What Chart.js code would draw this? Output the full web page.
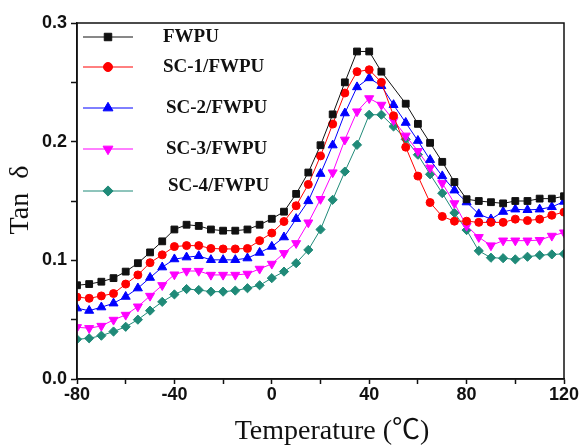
<!DOCTYPE html>
<html>
<head>
<meta charset="utf-8">
<script src="https://cdn.jsdelivr.net/npm/chart.js@4.4.1/dist/chart.umd.min.js"></script>
<style>
  html, body { margin: 0; padding: 0; background: #fff; }
  canvas { display: block; }
</style>
</head>
<body>
<canvas id="tanChart" width="587" height="445"></canvas>
<script>
// Temperatura (°C) de cada medida
const temperaturas = [-80, -75, -70, -65, -60, -55, -50, -45, -40, -35, -30, -25, -20, -15, -10, -5,
    0, 5, 10, 15, 20, 25, 30, 35, 40, 45, 50, 55, 60, 65, 70, 75, 80, 85, 90, 95, 100, 105, 110, 115, 120];

// tan δ de cada muestra (null = sin punto medido)
const fwpu = [0.079, 0.080, 0.082, 0.085, 0.0905, 0.0976, 0.1067, 0.116, 0.126, 0.130, 0.129, 0.126, 0.125, 0.125, 0.126, 0.130,
    0.135, 0.141, 0.156, 0.174, 0.197, 0.223, 0.250, 0.276, 0.276, 0.259, null, 0.232, 0.215, 0.199, 0.183, 0.166,
    0.1515, 0.150, 0.149, 0.148, 0.150, 0.150, 0.152, 0.152, 0.154];
const sc1 = [0.069, 0.068, 0.070, 0.072, 0.080, 0.0877, 0.098, 0.1046, 0.1116, 0.1124, 0.1124, 0.110, 0.1096, 0.1096, 0.110, 0.1166,
    0.123, 0.1327, 0.146, 0.164, 0.188, 0.2148, 0.241, 0.259, 0.2606, 0.250, 0.2218, 0.1954, 0.171, 0.1487, 0.137, 0.133,
    0.133, 0.132, 0.132, 0.132, 0.1347, 0.1335, 0.1347, 0.138, 0.1406];
const sc2 = [0.0596, 0.0576, 0.0605, 0.0638, 0.0694, 0.0765, 0.0854, 0.0942, 0.101, 0.1026, 0.1037, 0.1004, 0.1004, 0.1004, 0.1018, 0.1065,
    0.1116, 0.1195, 0.135, 0.150, 0.173, 0.197, 0.224, 0.246, 0.2536, 0.247, 0.231, 0.216, 0.2008, 0.1847, 0.171, 0.159,
    0.149, 0.139, 0.1347, 0.141, 0.143, 0.1425, 0.143, 0.145, 0.1495];
const sc3 = [0.0436, 0.0428, 0.0447, 0.0498, 0.054, 0.061, 0.070, 0.079, 0.088, 0.091, 0.091, 0.0877, 0.0877, 0.0877, 0.0886, 0.0928,
    0.097, 0.106, 0.1144, 0.1318, 0.1516, 0.174, 0.2016, 0.2254, 0.2365, 0.231, 0.218, 0.205, 0.192, 0.178, 0.165, 0.148,
    0.129, 0.1195, 0.1125, 0.1166, 0.1166, 0.1166, 0.117, 0.1206, 0.1234];
const sc4 = [0.0335, 0.0343, 0.0365, 0.040, 0.044, 0.050, 0.0576, 0.065, 0.0713, 0.0758, 0.075, 0.0736, 0.0736, 0.0745, 0.0765, 0.079,
    0.085, 0.0905, 0.0976, 0.1088, 0.126, 0.151, 0.1748, 0.1973, 0.2227, 0.2227, 0.2128, 0.202, 0.189, 0.1725, 0.1566, 0.140,
    0.1255, 0.108, 0.1022, 0.1018, 0.1008, 0.103, 0.1043, 0.105, 0.1054];

const etiquetas = ['FWPU', 'SC-1/FWPU', 'SC-2/FWPU', 'SC-3/FWPU', 'SC-4/FWPU'];

// Posiciones de la leyenda dentro del área de la gráfica
const leyendaMarcaY = [37, 67, 108, 149, 191];
const leyendaTextoY = [37, 67, 108, 149, 186];
const leyendaTextoX = [163, 163, 166, 166, 168];

const serie = (label, valores, color, estilo, radio, rotacion) => ({
    label: label,
    data: temperaturas.map((t, i) => ({ x: t, y: valores[i] })),
    borderColor: color,
    backgroundColor: color,
    pointBackgroundColor: color,
    pointBorderColor: color,
    pointStyle: estilo,
    pointRadius: radio,
    pointRotation: rotacion,
    pointBorderWidth: 1,
    borderWidth: 1,
    tension: 0,
    spanGaps: true
});

// Leyenda, títulos de ejes y marco
const extras = {
    id: 'extras',
    afterDraw(chart) {
        const ctx = chart.ctx;
        const a = chart.chartArea;
        ctx.save();

        chart.data.datasets.forEach((ds, i) => {
            const y = leyendaMarcaY[i];
            ctx.strokeStyle = ds.borderColor;
            ctx.fillStyle = ds.borderColor;
            ctx.lineWidth = 1;
            ctx.beginPath();
            ctx.moveTo(83, y);
            ctx.lineTo(133, y);
            ctx.stroke();
            Chart.helpers.drawPoint(ctx, {
                pointStyle: ds.pointStyle,
                rotation: ds.pointRotation,
                radius: ds.pointRadius + 0.5,
                borderWidth: 1
            }, 108, y);

            ctx.fillStyle = '#111';
            ctx.font = 'bold 19px "Liberation Serif", serif';
            ctx.textAlign = 'left';
            ctx.textBaseline = 'middle';
            ctx.fillText(ds.label, leyendaTextoX[i], leyendaTextoY[i]);
        });

        // títulos
        ctx.fillStyle = '#111';
        ctx.font = '28px "Liberation Serif", "Noto Sans CJK SC", serif';
        ctx.textAlign = 'center';
        ctx.textBaseline = 'middle';
        ctx.fillText('Temperature (℃)', 332, 432);

        ctx.save();
        ctx.translate(21, 200);
        ctx.rotate(-Math.PI / 2);
        ctx.fillText('Tan  δ', 0, 0);
        ctx.restore();

        // marco completo
        ctx.strokeStyle = '#111';
        ctx.lineWidth = 1.5;
        ctx.strokeRect(a.left, a.top, a.right - a.left, a.bottom - a.top);
        ctx.restore();
    }
};

const fuenteEjes = { family: '"Liberation Sans", Arial, sans-serif', size: 18, weight: 'bold' };

const ctxTan = document.getElementById('tanChart').getContext('2d');
const tanChart = new Chart(ctxTan, {
    type: 'line',
    data: {
        datasets: [
            serie(etiquetas[0], fwpu, '#111111', 'rect', 4.8, 0),
            serie(etiquetas[1], sc1, '#ff0000', 'circle', 4, 0),
            serie(etiquetas[2], sc2, '#0000ff', 'triangle', 5.2, 0),
            serie(etiquetas[3], sc3, '#ff00ff', 'triangle', 5.2, 180),
            serie(etiquetas[4], sc4, '#1f8a78', 'rectRot', 4.6, 0)
        ]
    },
    options: {
        responsive: false,
        animation: false,
        layout: { padding: { left: 0, right: 23, top: 23, bottom: 0 } },
        plugins: {
            legend: { display: false },
            tooltip: { enabled: false }
        },
        scales: {
            x: {
                type: 'linear',
                min: -80,
                max: 120,
                afterFit: (s) => { s.height = 66; },
                border: { display: true, color: '#111', width: 1.5 },
                grid: { drawOnChartArea: false, drawTicks: true, tickLength: 5, tickColor: '#111', tickWidth: 1.5 },
                ticks: {
                    stepSize: 20,
                    padding: 0,
                    color: '#111',
                    font: fuenteEjes,
                    maxRotation: 0,
                    autoSkip: false,
                    callback: (v) => (v % 40 === 0 ? String(v) : '')
                }
            },
            y: {
                min: 0,
                max: 0.3,
                afterFit: (s) => { s.width = 77; },
                border: { display: true, color: '#111', width: 1.5 },
                grid: { drawOnChartArea: false, drawTicks: true, tickLength: 6, tickColor: '#111', tickWidth: 1.5 },
                ticks: {
                    stepSize: 0.05,
                    padding: 4,
                    color: '#111',
                    font: fuenteEjes,
                    autoSkip: false,
                    callback: (v) => (Math.round(v * 100) % 10 === 0 ? v.toFixed(1) : '')
                }
            }
        }
    },
    plugins: [extras]
});
</script>
</body>
</html>
